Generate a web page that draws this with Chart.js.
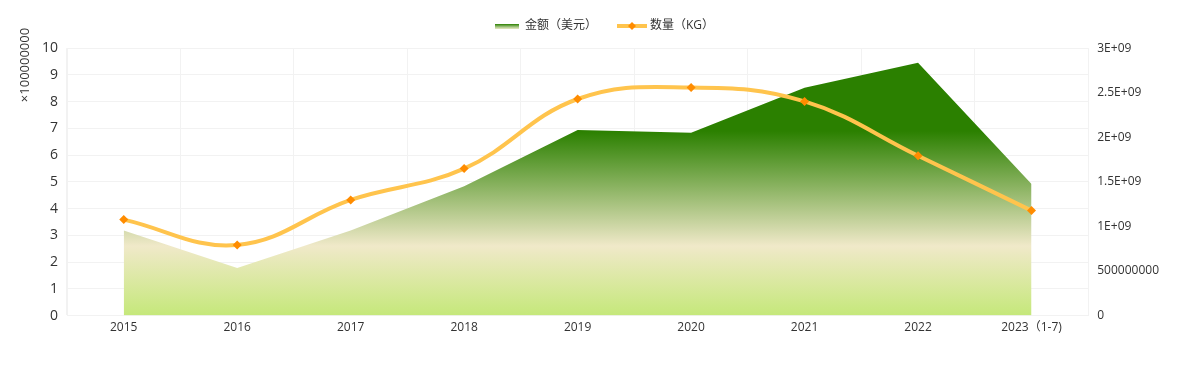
<!DOCTYPE html>
<html>
<head>
<meta charset="utf-8">
<script src="https://cdn.jsdelivr.net/npm/chart.js@4/dist/chart.umd.min.js"></script>
<style>
html,body{margin:0;padding:0;background:#fff;}
#wrap{width:1178px;height:365px;position:relative;}
</style>
</head>
<body>
<div id="wrap"><canvas id="c" width="1178" height="365"></canvas></div>
<script>
const categories = ['2015','2016','2017','2018','2019','2020','2021','2022','2023（1-7)'];
const amountUSD = [3.18e8, 1.78e8, 3.18e8, 4.84e8, 6.94e8, 6.84e8, 8.52e8, 9.46e8, 4.92e8];
const quantityKG = [1.077e9, 0.793e9, 1.298e9, 1.649e9, 2.43e9, 2.56e9, 2.403e9, 1.794e9, 1.178e9];
const leftTicks = [0,1,2,3,4,5,6,7,8,9,10];
const rightTicks = ['0','500000000','1E+09','1.5E+09','2E+09','2.5E+09','3E+09'];
const seriesNames = ['金额（美元）','数量（KG）'];
const leftAxisTitle = '×100000000';

const FONT = "'Open Sans','Noto Sans CJK SC',sans-serif";

function makeIcon(kind){
  const cv = document.createElement('canvas');
  if(kind === 0){
    cv.width = 24; cv.height = 12;
    const c = cv.getContext('2d');
    const g = c.createLinearGradient(0,4,0,9);
    g.addColorStop(0,'#2b8000');
    g.addColorStop(0.6,'#a8c888');
    g.addColorStop(1,'#e8e6c0');
    c.fillStyle = g;
    c.fillRect(0,4,24,5);
  } else {
    cv.width = 30; cv.height = 12;
    const c = cv.getContext('2d');
    c.strokeStyle = '#ffc44d';
    c.lineWidth = 4;
    c.beginPath(); c.moveTo(0,6); c.lineTo(30,6); c.stroke();
    c.fillStyle = '#ff8c00';
    c.beginPath(); c.moveTo(15,2); c.lineTo(19,6); c.lineTo(15,10); c.lineTo(11,6); c.closePath(); c.fill();
  }
  return cv;
}
const icons = [makeIcon(0), makeIcon(1)];

function areaGradient(ctx){
  const chart = ctx.chart;
  const ca = chart.chartArea;
  if(!ca) return 'rgba(43,128,0,0.6)';
  const g = chart.ctx.createLinearGradient(0, ca.top, 0, ca.bottom);
  g.addColorStop(0, '#2b8000');
  g.addColorStop(0.31, '#2b8000');
  g.addColorStop(0.74, '#f0e9c9');
  g.addColorStop(1, '#c5e87a');
  return g;
}

const axisTitlePlugin = {
  id: 'axisTitle',
  afterLayout(chart){
    if(chart.legend){ chart.legend.left += 15; chart.legend.right += 15; }
  },
  afterDraw(chart){
    const c = chart.ctx;
    c.save();
    c.translate(25, 65);
    c.rotate(-Math.PI/2);
    c.font = "13px " + FONT;
    c.fillStyle = '#333';
    c.textAlign = 'center';
    c.textBaseline = 'middle';
    c.fillText(leftAxisTitle, 0, 0);
    c.restore();
  }
};

new Chart(document.getElementById('c'), {
  type: 'line',
  plugins: [axisTitlePlugin],
  data: {
    labels: categories,
    datasets: [
      {
        label: seriesNames[1],
        data: quantityKG,
        yAxisID: 'y1',
        borderColor: '#ffc44d',
        borderWidth: 4,
        tension: 0.4,
        pointStyle: 'rectRot',
        pointRadius: 4.5,
        pointBackgroundColor: '#ff8c00',
        pointBorderColor: '#ff8c00',
        pointBorderWidth: 0,
        fill: false,
        order: 0
      },
      {
        label: seriesNames[0],
        data: amountUSD.map(v => v / 1e8),
        yAxisID: 'y',
        borderWidth: 0,
        borderColor: 'rgba(0,0,0,0)',
        backgroundColor: areaGradient,
        pointRadius: 0,
        tension: 0,
        fill: 'origin',
        order: 1
      }
    ]
  },
  options: {
    responsive: false,
    animation: false,
    layout: { padding: { left: 11, right: 10, top: -3, bottom: 25 } },
    plugins: {
      tooltip: { enabled: false },
      subtitle: {
        display: true, text: ' ', weight: 500,
        font: { size: 1 }, padding: { top: 0, bottom: 5 }
      },
      legend: {
        position: 'top',
        labels: {
          usePointStyle: true,
          pointStyleWidth: 24,
          padding: 23,
          color: '#333',
          font: { family: FONT, size: 12 },
          generateLabels(chart){
            return [0,1].map(i => {
              const dsIndex = i === 0 ? 1 : 0;
              return {
                text: seriesNames[i],
                pointStyle: icons[i],
                fillStyle: 'transparent',
                strokeStyle: 'transparent',
                lineWidth: 0,
                datasetIndex: dsIndex,
                hidden: false,
                fontColor: '#333'
              };
            });
          }
        }
      }
    },
    scales: {
      x: {
        offset: true,
        grid: { offset: true, color: '#f2f2f2', drawTicks: false },
        border: { color: '#f2f2f2' },
        ticks: { color: '#333', font: { family: FONT, size: 12 }, padding: 5, maxRotation: 0, autoSkip: false }
      },
      y: {
        position: 'left',
        min: 0, max: 10,
        afterBuildTicks(axis){ axis.ticks = leftTicks.map(v => ({value: v})); },
        grid: { color: '#f2f2f2', drawTicks: false },
        border: { color: '#f2f2f2' },
        afterFit(axis){ axis.width = 56; },
        ticks: { color: '#333', font: { family: FONT, size: 14 }, padding: 9 }
      },
      y1: {
        position: 'right',
        min: 0, max: 3e9,
        afterBuildTicks(axis){ axis.ticks = rightTicks.map((t,i) => ({value: i * 5e8})); },
        grid: { display: false, drawTicks: false },
        border: { display: false },
        ticks: {
          color: '#333', font: { family: FONT, size: 12 }, padding: 9,
          callback(v, i){ return rightTicks[i]; }
        }
      }
    }
  }
});
</script>
</body>
</html>
